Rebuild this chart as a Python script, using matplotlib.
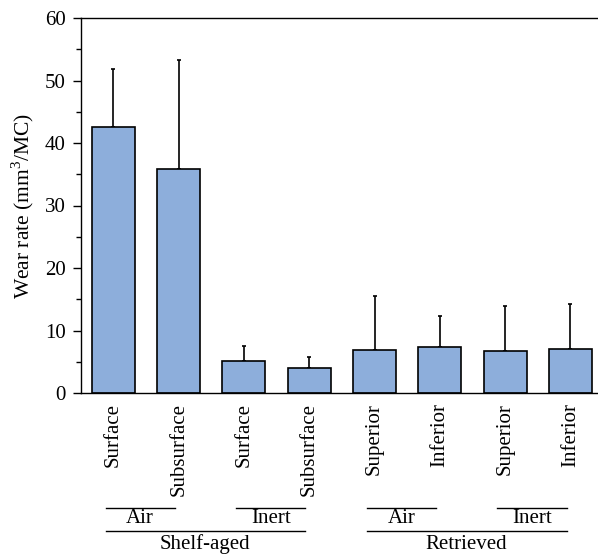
import matplotlib
matplotlib.use('Agg')
import matplotlib.pyplot as plt
from matplotlib.ticker import MultipleLocator

# --- data ---
labels = ['Surface', 'Subsurface', 'Surface', 'Subsurface',
          'Superior', 'Inferior', 'Superior', 'Inferior']
wear_mean = [42.6, 35.8, 5.2, 4.0, 6.9, 7.4, 6.8, 7.1]
wear_upper = [51.8, 53.3, 7.5, 5.7, 15.6, 12.4, 13.9, 14.2]

# (first bar, last bar, text)
sub_groups = [(0, 1, 'Air'), (2, 3, 'Inert'), (4, 5, 'Air'), (6, 7, 'Inert')]
main_groups = [(0, 3, 'Shelf-aged'), (4, 7, 'Retrieved')]

plt.rcParams['font.family'] = ['Liberation Serif', 'DejaVu Serif']
plt.rcParams['mathtext.fontset'] = 'custom'
plt.rcParams['mathtext.rm'] = 'Liberation Serif'

FS = 15

fig = plt.figure(figsize=(5.98, 5.56), dpi=100)
ax = fig.add_axes([80.7 / 598, 1 - 393 / 556, 522.4 / 598, 375 / 556])

x = list(range(len(labels)))
err = [u - m for u, m in zip(wear_upper, wear_mean)]
ax.bar(x, wear_mean, width=0.66, color='#8DAEDB', edgecolor='black',
       linewidth=1.2, zorder=2)
ax.errorbar(x, wear_mean, yerr=[[0] * len(err), err], fmt='none',
            ecolor='black', elinewidth=1.2, capsize=1.6, capthick=1.2, zorder=1)

ax.set_xlim(-0.5, 7.5)
ax.set_ylim(0, 60)
ax.yaxis.set_major_locator(MultipleLocator(10))
ax.yaxis.set_minor_locator(MultipleLocator(5))
ax.tick_params(axis='y', which='major', direction='out', length=5.8, width=1,
               labelsize=FS, pad=5)
ax.tick_params(axis='y', which='minor', direction='out', length=3.4, width=1)
ax.set_xticks(x)
ax.set_xticklabels(labels, rotation=90, fontsize=FS)
ax.tick_params(axis='x', length=0, pad=7)
for s in ax.spines.values():
    s.set_linewidth(1)
ax.spines['right'].set_visible(False)

ax.set_ylabel('Wear rate (mm$^3$/MC)', fontsize=FS + 0.5, labelpad=6)

tr = ax.get_xaxis_transform()
for a, b, t in sub_groups:
    ax.plot([a - 0.12, b - 0.06], [-0.306, -0.306], color='black', lw=1,
            transform=tr, clip_on=False)
    ax.text((a + b) / 2 - 0.09, -0.335, t, transform=tr, ha='center',
            va='center', fontsize=FS)
for a, b, t in main_groups:
    ax.plot([a - 0.12, b - 0.06], [-0.368, -0.368], color='black', lw=1,
            transform=tr, clip_on=False)
    ax.text((a + b) / 2 - 0.09, -0.403, t, transform=tr, ha='center',
            va='center', fontsize=FS)

fig.savefig('out.png', dpi=100)
